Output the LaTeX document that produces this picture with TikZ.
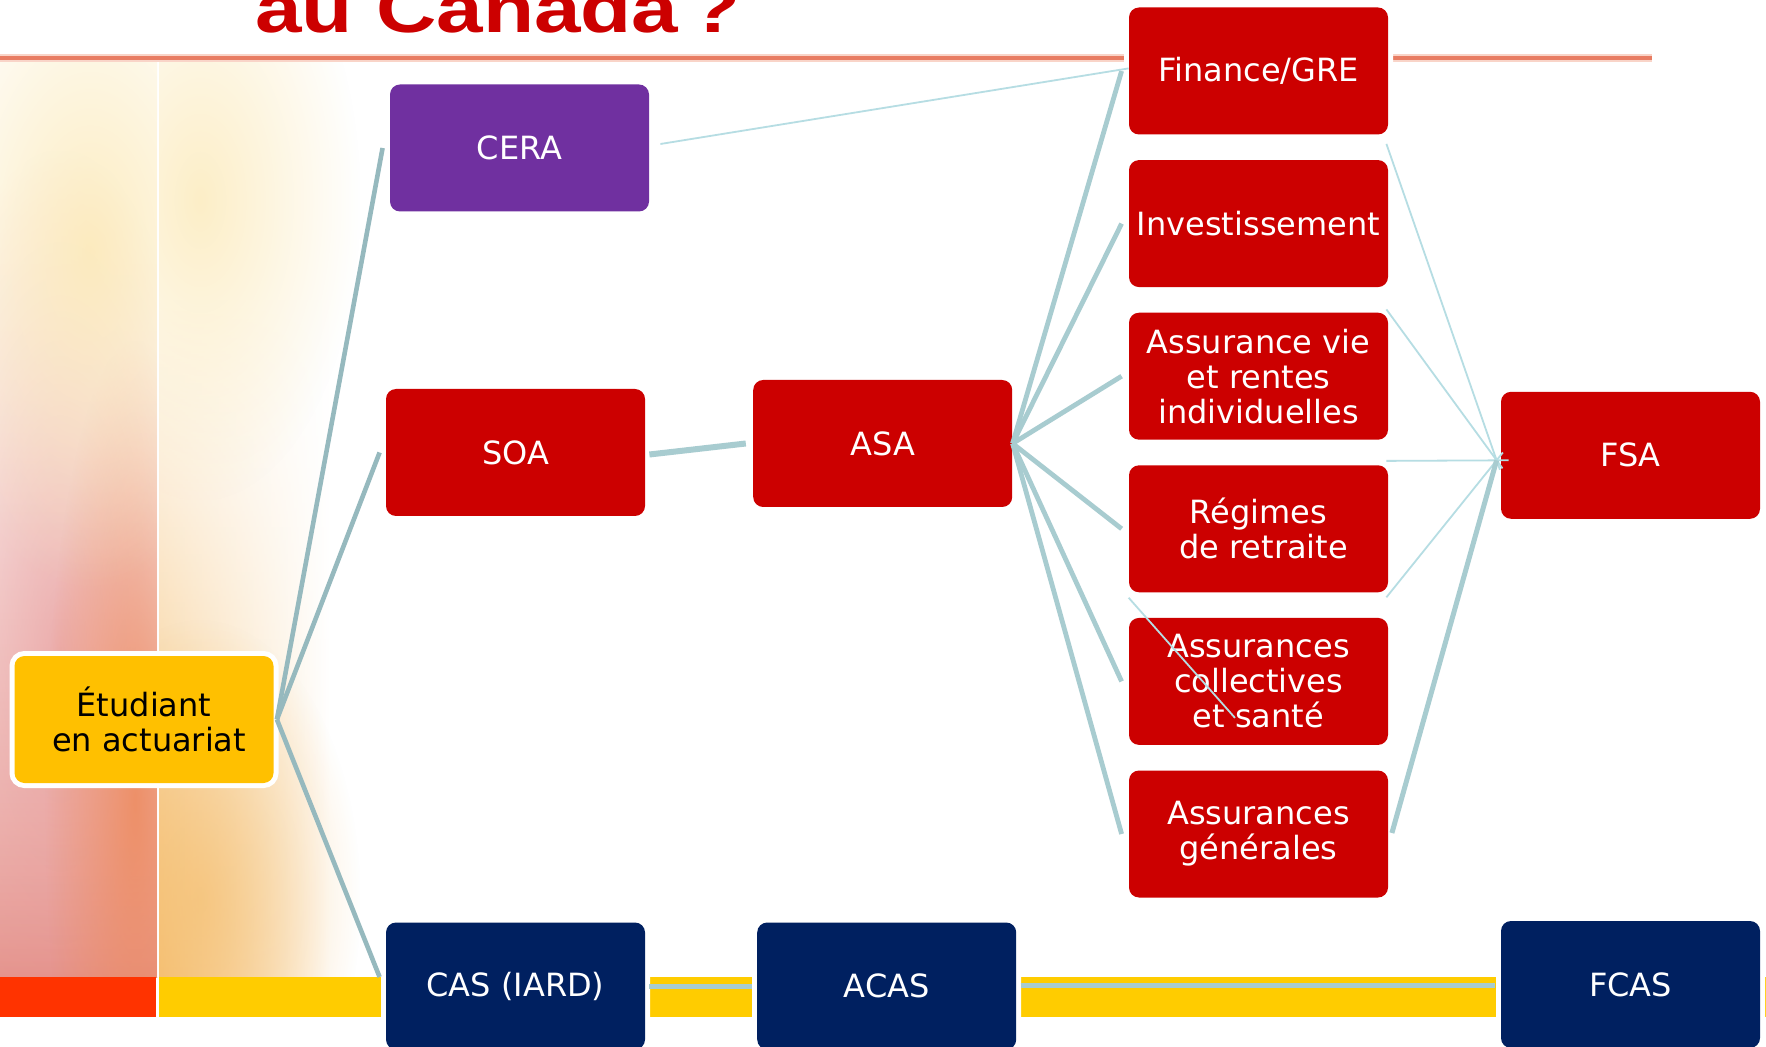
\documentclass[tikz,border=0pt]{standalone}
\usepackage{fontspec}
\setmainfont{DejaVu Sans}
\newfontfamily\titlefont{Liberation Sans}[FakeStretch=1.23]
\usetikzlibrary{calc,fadings}
\definecolor{boxred}{RGB}{204,0,0}
\definecolor{boxpurple}{RGB}{112,48,160}
\definecolor{boxnavy}{RGB}{0,32,96}
\definecolor{boxyellow}{RGB}{255,192,0}
\definecolor{lineA}{RGB}{150,185,190}
\definecolor{lineB}{RGB}{168,204,208}
\definecolor{lineC}{RGB}{182,221,227}
\definecolor{titlered}{RGB}{204,0,0}
\definecolor{ruleorange}{RGB}{232,124,98}
\definecolor{rulehalo}{RGB}{249,212,200}
\definecolor{bandred}{RGB}{255,51,0}
\definecolor{bandyellow}{RGB}{255,204,0}
\definecolor{bgpink}{RGB}{230,150,142}
\definecolor{bgrose}{RGB}{228,140,140}
\definecolor{bgorange}{RGB}{238,138,92}
\definecolor{bgyel}{RGB}{245,192,115}
\definecolor{bgpaleyel}{RGB}{252,234,185}
\tikzfading[name=fadeN, top color=transparent!100, bottom color=transparent!0]
\tikzfading[name=blob, inner color=transparent!0, outer color=transparent!100]
\tikzset{
  box/.style={rectangle, rounded corners=5pt, minimum width=129.5pt, minimum height=63.5pt,
    inner sep=0pt, align=center, text=white,
    font=\fontsize{16pt}{17.5pt}\selectfont,
    preaction={draw=white, line width=5pt}},
  redbox/.style={box, fill=boxred},
  purplebox/.style={box, fill=boxpurple},
  navybox/.style={box, fill=boxnavy},
  yelbox/.style={box, fill=boxyellow, text=black},
  linkA/.style={draw=lineA, line width=2.3pt},
  linkB/.style={draw=lineB, line width=2.4pt},
  linkC/.style={draw=lineC, line width=0.9pt},
}
\begin{document}
\begin{tikzpicture}[x=0.5pt, y=-0.5pt]
\useasboundingbox (0,0) rectangle (1766,1047);
\clip (0,0) rectangle (1766,1047);
% background
\fill[white] (0,0) rectangle (1766,1047);
\begin{scope}
  \clip (0,60) rectangle (157,977);
  \shade[top color=white, bottom color=bgpink, path fading=fadeN] (0,260) rectangle (157,977);
  \fill[bgrose, path fading=blob, opacity=0.6] (-100,150) rectangle (220,1150);
  \fill[bgorange, path fading=blob, opacity=0.85] (45,340) rectangle (225,1260);
  \fill[bgpaleyel, path fading=blob, opacity=0.9] (-90,-90) rectangle (270,590);
\end{scope}
\begin{scope}
  \clip (159,60) rectangle (420,977);
  \shade[left color=bgyel, right color=white, path fading=fadeN] (159,300) rectangle (330,977);
  \fill[bgyel, path fading=blob, opacity=0.7] (40,620) rectangle (360,1180);
  \fill[bgpaleyel, path fading=blob, opacity=0.8] (40,-100) rectangle (360,500);
\end{scope}
\draw[white, line width=1pt, opacity=0.85] (157.5,120) -- (157.5,977);
% bands
\fill[bandred] (0,977) rectangle (156,1016.6);
\fill[bandyellow] (159,977) rectangle (1766,1016.6);
% title and rule
\node[anchor=base west, inner sep=0pt, text=titlered,
  font=\titlefont\bfseries\fontsize{34pt}{34pt}\selectfont] (title) at (255,33) {au Canada\,?};
\draw[rulehalo, line width=4pt] (0,58) -- (1652,58);
\draw[ruleorange, line width=1.6pt] (0,58) -- (1652,58);
% boxes
\node[yelbox] (etu) at (144,719.5) {Étudiant\\\hspace*{0.32em}en actuariat};
\node[purplebox] (cera) at (519.5,148) {CERA};
\node[redbox] (soa) at (515.5,452.5) {SOA};
\node[navybox] (cas) at (515.5,986) {CAS (IARD)};
\node[redbox] (asa) at (882.7,443.5) {ASA};
\node[navybox] (acas) at (886.7,986) {ACAS};
\node[redbox] (fin) at (1258.5,71) {Finance/GRE};
\node[redbox] (inv) at (1258.5,223.6) {Investissement};
\node[redbox] (vie) at (1258.5,376.2) {Assurance vie\\et rentes\\individuelles};
\node[redbox] (reg) at (1258.5,528.8) {Régimes\\\hspace*{0.32em}de retraite};
\node[redbox] (col) at (1258.5,681.4) {Assurances\\collectives\\et santé};
\node[redbox] (gen) at (1258.5,834) {Assurances\\générales};
\node[redbox] (fsa) at (1630.5,455.3) {FSA};
\node[navybox] (fcas) at (1630.5,984.5) {FCAS};
% connectors from Étudiant
\coordinate (es) at ($(etu.east)+(3,0)$);
\draw[linkA] (es) -- ($(cera.west)+(-7,0)$);
\draw[linkA] (es) -- ($(soa.west)+(-6,0)$);
\draw[linkA] (es) -- ($(cas.west)+(-6,-9)$);
% SOA - ASA, CAS - ACAS - FCAS
\draw[draw=lineB, line width=3pt] ($(soa.east)+(4,2)$) -- ($(asa.west)+(-7,0)$);
\draw[draw=lineB, line width=2.5pt] ($(cas.east)+(4,0)$) -- ($(acas.west)+(-5,0)$);
\draw[draw=lineB, line width=2.5pt] ($(acas.east)+(4,-1)$) -- ($(fcas.west)+(-6,0.5)$);
% ASA fan
\foreach \b in {fin,inv,vie,reg,col,gen}
  \draw[linkB] (asa.east) -- ($(\b.west)+(-7,0)$);
% CERA - Finance
\draw[linkC] ($(cera.east)+(11,-4)$) -- ($(fin.west)+(0,-2.6)$);
% towards FSA
\coordinate (fi) at ($(fsa.west)+(-4,5)$);
\draw[linkC, shorten >=-5pt] ($(fin.south east)+(-2,9)$) -- (fi);
\draw[linkC, shorten >=-5pt] ($(vie.north east)+(-2,-2.9)$) -- (fi);
\draw[linkC] ($(reg.north east)+(-2,-4)$) -- ($(fi)+(12,0)$);
\draw[linkC, shorten >=-5pt] ($(reg.south east)+(-2,4.6)$) -- (fi);
\coordinate (strayend) at ($(col.center)+(-23.5,36.5)$);
\draw[linkC] ($(reg.south west)+(0,5)$) -- (strayend);
\draw[draw=lineB, line width=2.5pt] ($(gen.east)+(3.5,-1)$) -- (fi);
\end{tikzpicture}
\end{document}
